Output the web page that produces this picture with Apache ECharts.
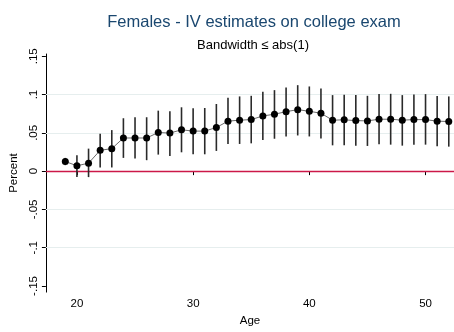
<!DOCTYPE html>
<html>
<head>
<meta charset="utf-8">
<script src="https://cdn.jsdelivr.net/npm/echarts@6/dist/echarts.min.js"></script>
<style>
  html, body { margin: 0; padding: 0; background: #fff; }
  #chart { width: 454px; height: 332px; }
</style>
</head>
<body>
<div id="chart"></div>
<script>
// Age at which the estimate is taken
const ages = [19, 20, 21, 22, 23, 24, 25, 26, 27, 28, 29, 30, 31, 32, 33, 34, 35,
              36, 37, 38, 39, 40, 41, 42, 43, 44, 45, 46, 47, 48, 49, 50, 51, 52];
// Point estimates
const estimate = [0.0126, 0.0070, 0.0104, 0.0272, 0.0294, 0.0433, 0.0433, 0.0433, 0.0505, 0.0497,
                  0.0540, 0.0523, 0.0523, 0.0570, 0.0653, 0.0666, 0.0673, 0.0721, 0.0743, 0.0777,
                  0.0803, 0.0782, 0.0756, 0.0666, 0.0670, 0.0660, 0.0656, 0.0678, 0.0678, 0.0666,
                  0.0673, 0.0673, 0.0653, 0.0648];
// Lower confidence bound
const ciLow = [0.0078, -0.0078, -0.0078, 0.0048, 0.0048, 0.0173, 0.0164, 0.0143, 0.0216, 0.0199,
               0.0246, 0.0220, 0.0220, 0.0264, 0.0355, 0.0355, 0.0363, 0.0407, 0.0423, 0.0453,
               0.0466, 0.0453, 0.0427, 0.0337, 0.0337, 0.0333, 0.0329, 0.0350, 0.0346, 0.0333,
               0.0346, 0.0346, 0.0324, 0.0320];
// Upper confidence bound
const ciHigh = [0.0173, 0.0207, 0.0294, 0.0488, 0.0536, 0.0691, 0.0704, 0.0704, 0.0790, 0.0782,
                0.0834, 0.0821, 0.0825, 0.0877, 0.0958, 0.0976, 0.0984, 0.1036, 0.1058, 0.1093,
                0.1123, 0.1106, 0.1080, 0.0993, 0.0997, 0.0993, 0.0984, 0.1006, 0.1010, 0.0993,
                0.1002, 0.1006, 0.0980, 0.0976];

const xTicks = [20, 30, 40, 50];
const yTicks = [-0.15, -0.1, -0.05, 0, 0.05, 0.1, 0.15];
const yTickLabels = ['-.15', '-.1', '-.05', '0', '.05', '.1', '.15'];
const gridValues = [-0.1, -0.05, 0.05, 0.1];

const FONT = 'Liberation Sans, Arial, sans-serif';

function yLabel(v) {
  for (let i = 0; i < yTicks.length; i++) {
    if (Math.abs(yTicks[i] - v) < 1e-9) return yTickLabels[i];
  }
  return '';
}

const chart = echarts.init(document.getElementById('chart'), null, { renderer: 'canvas' });

chart.setOption({
  animation: false,
  backgroundColor: '#ffffff',
  title: [
    {
      text: 'Females - IV estimates on college exam',
      left: 249, top: 9, textAlign: 'center',
      textStyle: { fontFamily: FONT, fontSize: 16.5, fontWeight: 'normal', color: '#1a476f' }
    },
    {
      text: 'Bandwidth \u2264 abs(1)',
      left: 248, top: 34, textAlign: 'center',
      textStyle: { fontFamily: FONT, fontSize: 13, fontWeight: 'normal', color: '#000' }
    }
  ],
  grid: { left: 42, right: 0, top: 54, bottom: 37, containLabel: false },
  xAxis: {
    type: 'value',
    min: 17.33, max: 52.45,
    name: 'Age', nameLocation: 'middle', nameGap: 19,
    nameTextStyle: { fontFamily: FONT, fontSize: 11.5, color: '#000' },
    axisLine: { show: true, lineStyle: { color: '#000', width: 1 } },
    axisTick: { show: true, customValues: xTicks, length: 4, lineStyle: { color: '#000' } },
    axisLabel: { customValues: xTicks, fontFamily: FONT, fontSize: 11.5, color: '#000', margin: 6 },
    splitLine: { show: false }
  },
  yAxis: {
    type: 'value',
    min: -0.158, max: 0.153,
    name: 'Percent', nameLocation: 'middle', nameGap: 21,
    nameTextStyle: { fontFamily: FONT, fontSize: 11.5, color: '#000' },
    axisLine: { show: true, lineStyle: { color: '#000', width: 1 } },
    axisTick: { show: true, customValues: yTicks, length: 4, lineStyle: { color: '#000' } },
    axisLabel: {
      customValues: yTicks, rotate: 90, fontFamily: FONT, fontSize: 11.5, color: '#000', margin: 6,
      formatter: yLabel
    },
    splitLine: { show: false }
  },
  series: [
    {
      // Confidence interval whiskers
      type: 'custom',
      data: ages.map((a, i) => [a, ciLow[i], ciHigh[i]]),
      renderItem: function (params, api) {
        const lo = api.coord([api.value(0), api.value(1)]);
        const hi = api.coord([api.value(0), api.value(2)]);
        return {
          type: 'line',
          shape: { x1: lo[0], y1: lo[1], x2: hi[0], y2: hi[1] },
          style: { stroke: '#2a2a2a', lineWidth: 1.6 }
        };
      },
      silent: true,
      z: 3
    },
    {
      // Point estimates joined by a thin line, plus grid and zero reference lines
      type: 'line',
      data: ages.map((a, i) => [a, estimate[i]]),
      symbol: 'circle', symbolSize: 7,
      itemStyle: { color: '#000' },
      lineStyle: { color: '#6a6a6a', width: 1 },
      silent: true,
      z: 4,
      markLine: {
        silent: true, symbol: 'none', label: { show: false }, animation: false,
        data: gridValues.map(v => ({ yAxis: v, lineStyle: { color: '#e6eeee', width: 1, type: 'solid' } }))
          .concat([{ yAxis: 0, lineStyle: { color: '#cc1848', width: 1.3, type: 'solid' } }]),
        z: 1
      }
    }
  ]
});
</script>
</body>
</html>
